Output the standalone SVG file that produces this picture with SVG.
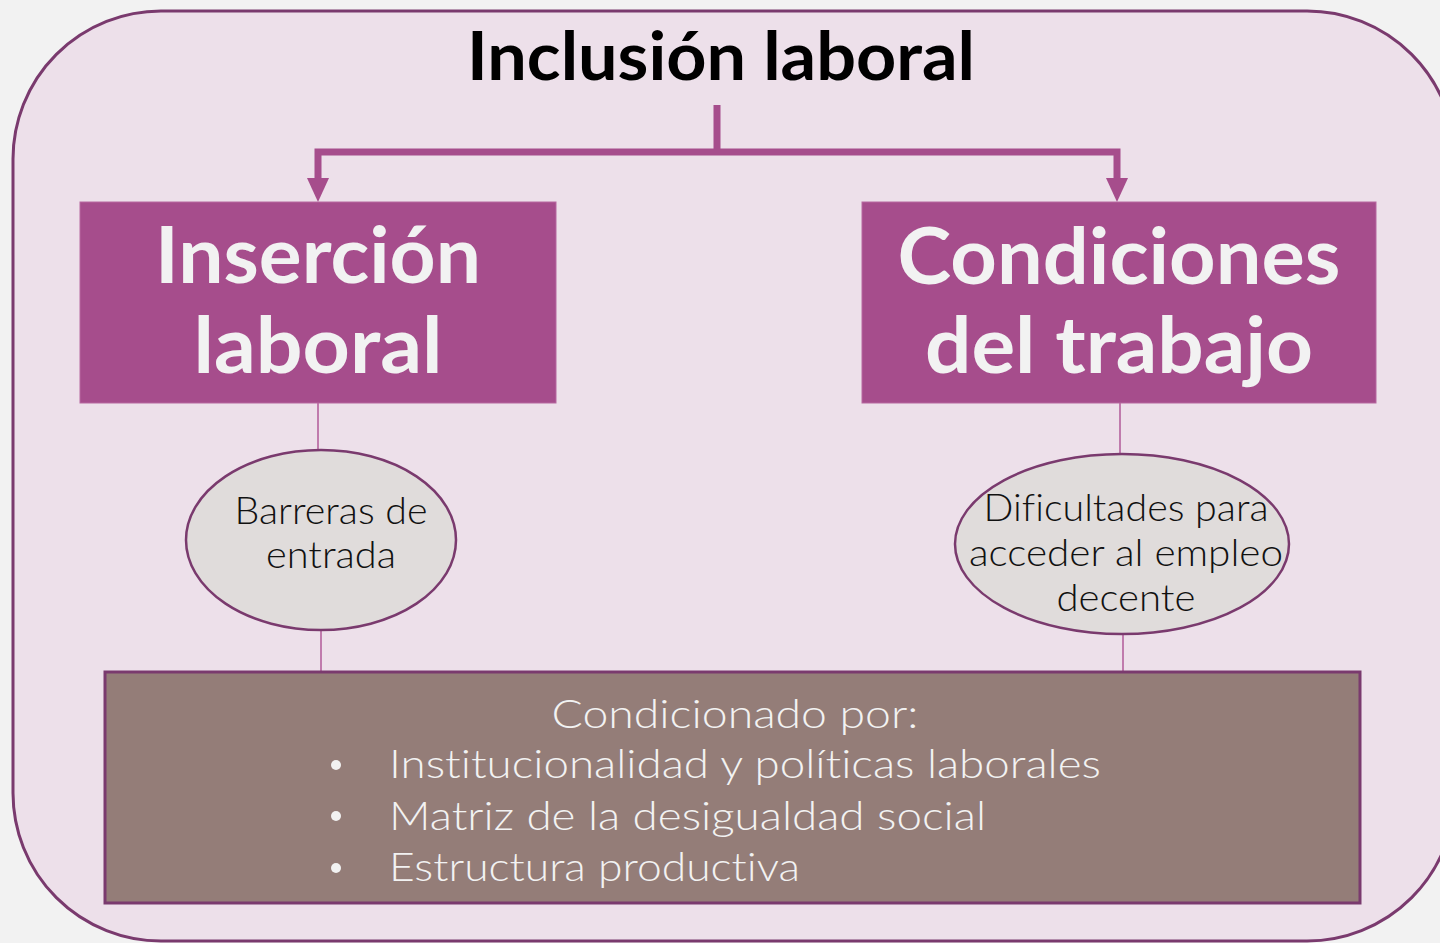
<svg xmlns="http://www.w3.org/2000/svg" width="1440" height="943" viewBox="0 0 1440 943">
<defs>
<style>
text{font-variant-ligatures:none;font-feature-settings:"liga" 0}
.hdr{font-family:Lato,"Open Sans","Liberation Sans",sans-serif;font-weight:700;fill:#f2f2f2;font-size:78px;text-anchor:middle}
.ell{font-family:Lato,"Open Sans","Liberation Sans",sans-serif;font-weight:300;fill:#111;font-size:37px;text-anchor:middle}
.brn{font-family:Lato,"Open Sans","Liberation Sans",sans-serif;font-weight:300;fill:#f2f2f2;font-size:40px}
.thin{stroke:#b05a98;stroke-width:1.5;fill:none}
.conn{stroke:#a64d8c;stroke-width:7;fill:none}
</style>
</defs>
<rect x="0" y="0" width="1440" height="943" fill="#f2f2f2"/>
<g id="frame">
<rect x="13" y="11" width="1442" height="930" rx="148" ry="148" fill="#ede0ea" stroke="#7a3a6e" stroke-width="3"/>
</g>
<g id="title">
<text x="721" y="80" font-family="Lato,'Open Sans','Liberation Sans',sans-serif" font-weight="700" font-size="66" fill="#000" text-anchor="middle" textLength="508" lengthAdjust="spacingAndGlyphs">Inclusión laboral</text>
</g>
<g id="connectors">
<path class="conn" d="M717 105 V152 M314.5 152 H1120.5 M318 152 V180 M1117 152 V180"/>
<polygon points="307,178 329,178 318,202" fill="#a64d8c"/>
<polygon points="1106,178 1128,178 1117,202" fill="#a64d8c"/>
<line class="thin" x1="318" y1="403" x2="318" y2="450"/>
<line class="thin" x1="321" y1="631" x2="321" y2="672"/>
<line class="thin" x1="1120" y1="403" x2="1120" y2="453"/>
<line class="thin" x1="1123" y1="635" x2="1123" y2="672"/>
</g>
<g id="insercion">
<rect x="80" y="202" width="476" height="201" fill="#a64d8c" stroke="#b768a0" stroke-width="1"/>
<text class="hdr" x="318" y="283" textLength="326" lengthAdjust="spacingAndGlyphs">Inserción</text>
<text class="hdr" x="318" y="373" textLength="249" lengthAdjust="spacingAndGlyphs">laboral</text>
</g>
<g id="condiciones">
<rect x="862" y="202" width="514" height="201" fill="#a64d8c" stroke="#b768a0" stroke-width="1"/>
<text class="hdr" x="1119" y="284" textLength="443" lengthAdjust="spacingAndGlyphs">Condiciones</text>
<text class="hdr" x="1119" y="373" textLength="388" lengthAdjust="spacingAndGlyphs">del trabajo</text>
</g>
<g id="barreras">
<ellipse cx="321" cy="540" rx="135" ry="90" fill="#e0dcdb" stroke="#7a3a6e" stroke-width="2.5"/>
<text class="ell" x="331" y="524" textLength="193" lengthAdjust="spacingAndGlyphs">Barreras de</text>
<text class="ell" x="331" y="568" textLength="130" lengthAdjust="spacingAndGlyphs">entrada</text>
</g>
<g id="dificultades">
<ellipse cx="1122" cy="544" rx="167" ry="90" fill="#e0dcdb" stroke="#7a3a6e" stroke-width="2.5"/>
<text class="ell" x="1126" y="521" textLength="285" lengthAdjust="spacingAndGlyphs">Dificultades para</text>
<text class="ell" x="1126" y="566" textLength="314" lengthAdjust="spacingAndGlyphs">acceder al empleo</text>
<text class="ell" x="1126" y="611" textLength="139" lengthAdjust="spacingAndGlyphs">decente</text>
</g>
<g id="condicionado">
<rect x="105" y="672" width="1255" height="231" fill="#947d78" stroke="#7a3a6e" stroke-width="3"/>
<text class="brn" x="735" y="728" text-anchor="middle" textLength="367" lengthAdjust="spacingAndGlyphs">Condicionado por:</text>
<circle cx="336" cy="765" r="5" fill="#f2f2f2"/>
<circle cx="336" cy="816" r="5" fill="#f2f2f2"/>
<circle cx="336" cy="868" r="5" fill="#f2f2f2"/>
<text class="brn" x="389" y="778" textLength="712" lengthAdjust="spacingAndGlyphs">Institucionalidad y políticas laborales</text>
<text class="brn" x="389" y="830" textLength="597" lengthAdjust="spacingAndGlyphs">Matriz de la desigualdad social</text>
<text class="brn" x="389" y="881" textLength="411" lengthAdjust="spacingAndGlyphs">Estructura productiva</text>
</g>
</svg>
